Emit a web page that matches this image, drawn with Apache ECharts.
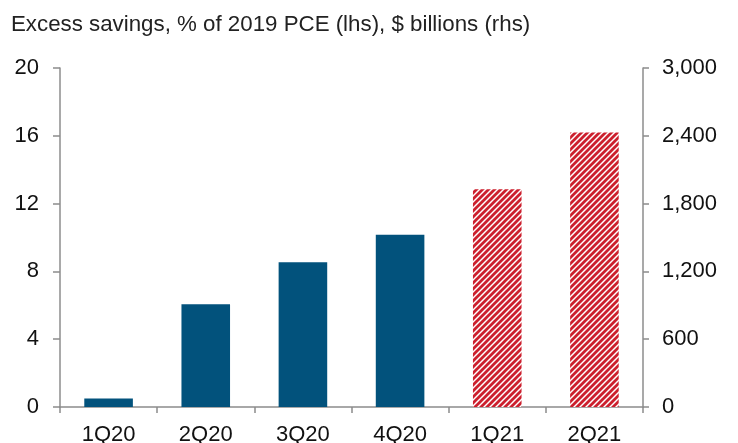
<!DOCTYPE html>
<html>
<head>
<meta charset="utf-8">
<script src="https://cdn.jsdelivr.net/npm/echarts@6/dist/echarts.min.js"></script>
<style>html,body{margin:0;padding:0;background:#fff;}#c{width:738px;height:443px;}</style>
</head>
<body>
<div id="c"></div>
<script>
var categories = ['1Q20', '2Q20', '3Q20', '4Q20', '1Q21', '2Q21'];
var actualValues = [0.5, 6.06, 8.54, 10.16, null, null];
var projectedValues = [null, null, null, null, 12.84, 16.2];
var subtitle = 'Excess savings, % of 2019 PCE (lhs), $ billions (rhs)';

function makeStripe() {
  var s = 6;
  var c = document.createElement('canvas');
  c.width = s; c.height = s;
  var ctx = c.getContext('2d');
  ctx.fillStyle = '#ffffff';
  ctx.fillRect(0, 0, s, s);
  ctx.strokeStyle = '#cc1f2d';
  ctx.lineWidth = 2.8;
  ctx.beginPath();
  ctx.moveTo(-s, s * 1); ctx.lineTo(s * 1, -s);
  ctx.moveTo(0, s * 2); ctx.lineTo(s * 2, 0);
  ctx.moveTo(-s, s * 2); ctx.lineTo(s * 2, -s);
  ctx.moveTo(0, s); ctx.lineTo(s, 0);
  ctx.stroke();
  return c;
}

var chart = echarts.init(document.getElementById('c'), null, {renderer: 'canvas'});
var font = 'Liberation Sans, Arial, sans-serif';
chart.setOption({
  animation: false,
  title: {
    text: subtitle, left: 6, top: 9,
    textStyle: {fontFamily: font, fontSize: 22.3, fontWeight: 'normal', color: '#222'}
  },
  grid: {left: 60, right: 95, top: 68, bottom: 36, containLabel: false, outerBoundsMode: 'none'},
  xAxis: {
    type: 'category', data: categories,
    axisLine: {lineStyle: {color: '#8c8c8c', width: 1.5}},
    axisTick: {show: true, length: 6, inside: false, lineStyle: {color: '#8c8c8c', width: 1.5}},
    axisLabel: {fontFamily: font, fontSize: 22, color: '#111', margin: 17}
  },
  yAxis: [{
    type: 'value', min: 0, max: 20, interval: 4,
    axisLine: {show: true, lineStyle: {color: '#8c8c8c', width: 1.5}},
    axisTick: {show: true, length: 7, lineStyle: {color: '#8c8c8c', width: 1.5}},
    splitLine: {show: false},
    axisLabel: {fontFamily: font, fontSize: 22, color: '#111', margin: 21}
  }, {
    type: 'value', min: 0, max: 3000, interval: 600, position: 'right',
    axisLine: {show: true, lineStyle: {color: '#8c8c8c', width: 1.5}},
    axisTick: {show: true, length: 6, lineStyle: {color: '#8c8c8c', width: 1.5}},
    splitLine: {show: false},
    axisLabel: {fontFamily: font, fontSize: 22, color: '#111', margin: 19,
      formatter: function (v) { return v.toLocaleString('en-US'); }}
  }],
  series: [{
    type: 'bar', data: actualValues, barWidth: '50%', barGap: '-100%',
    itemStyle: {color: '#02527c'}
  }, {
    type: 'bar', data: projectedValues, barWidth: '50%', barGap: '-100%',
    itemStyle: {color: {image: makeStripe(), repeat: 'repeat'}}
  }]
});
</script>
</body>
</html>
